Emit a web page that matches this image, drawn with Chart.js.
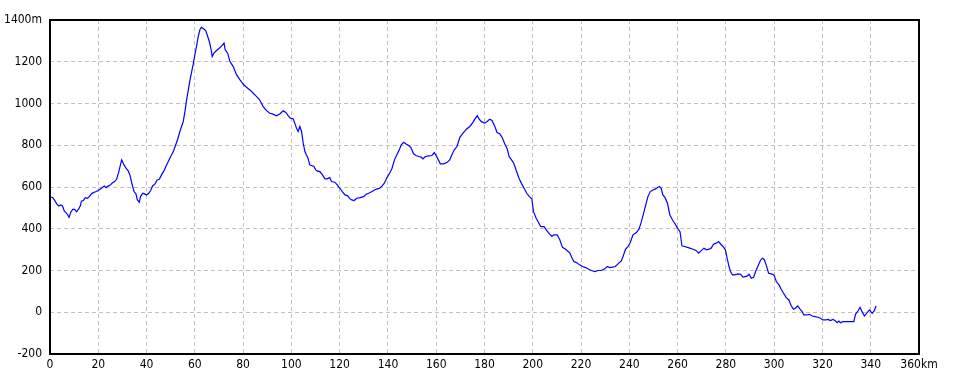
<!DOCTYPE html>
<html>
<head>
<meta charset="utf-8">
<script src="https://cdn.jsdelivr.net/npm/chart.js@4/dist/chart.umd.min.js"></script>
<style>
html,body{margin:0;padding:0;background:#fff;}
#wrap{width:960px;height:384px;position:relative;}
</style>
</head>
<body>
<div id="wrap"><canvas id="c"></canvas></div>
<script>
// distance along route (km)
const kmA = [0,1,1.8,2.8,3.6,4.4,5.2,5.9,6.9,7.9,
  8.6,9.4,10.2,11,11.9,12.6,13,13.8,14.6,15.5,
  16.3,17.1,17.9,18.9,20,21,21.8,22.5,23.2,23.7,
  24.8,25.9,26.8,27.6,28.4,29,29.7,30.6,31.5,32.4,
  33.1,33.9,34.8,35.6,36.2,37,37.5,38.4,39.2,40,
  40.9,41.7,42.5,43.5,44.4,45.3,46.2,47.2,48,49,
  50,51.1,52,52.9,53.8,54.5,55.2,55.9,56.6,57.3,
  58,58.7,59.4,60,60.7,61.4,62.1,62.7,63.5,64.5,
  65.1,66,66.7,67.2,67.9,69,70.1,71.1,72.1,72.6,
  73.6];
const elevA = [551,551,538,519,509,514,509,485,474,455,
  479,493,493,481,495,511,532,535,549,546,
  554,567,573,577,583,592,599,605,597,602,
  608,620,626,637,669,698,730,707,690,677,
  658,618,578,567,538,527,554,570,567,562,
  570,583,605,615,634,637,658,677,698,722,
  746,770,800,829,866,890,913,961,1017,1065,
  1113,1153,1193,1233,1273,1321,1353,1365,1359,1349,
  1329,1297,1260,1225,1241,1254,1265,1276,1289,1257,
  1241];

const kmB = [74.5,75.9,77.3,78.7,80.05,81.4,82.8,84.2,85.6,86.7,
  87.6,88.3,89.7,91.1,92.4,93.8,95.2,96.6,97.7,98.7,
  99.6,100.8,101.4,102.1,102.8,103.5,104.2,104.9,105.6,106.2,
  106.9,107.6,108.3,109.3,110.1,110.7,111.8,112.9,113.9,114.8,
  115.9,116.6,118,119,120.1,121.1,122.2,123.2,124.3,125,
  126,127.1,128.5,129.9,131,132,133.4,134.4,135.5,136.6,
  137.6,138.5,139.6,140.7,141.7,142.7,143.7,144.7,145.5,146.5,
  147.5,148.6,149.5,150.6,151.6,152.7,153.7,154.5,155.5,156.9,
  158.2,159.2,160.3,161.7,163.1,164.4,165.6,166.5,167.5,168.6];
const elevB = [1202,1177,1137,1113,1092,1078,1065,1049,1033,1020,
  1001,985,966,953,949,941,950,965,957,941,
  930,926,906,882,866,890,866,810,770,754,
  738,706,703,698,682,677,674,658,639,639,
  645,626,623,610,594,578,562,559,543,538,
  535,546,549,554,565,570,578,586,591,594,
  605,618,645,666,690,730,754,778,802,814,
  806,799,789,759,751,746,743,735,746,749,
  751,765,743,711,711,717,730,754,778,794];

const kmC = [169.8,171.1,172.5,173.9,175,176,177,177.8,178.7,180.1,
  181.1,182.2,183.1,184.3,185.2,186.3,187.3,188.4,189.4,190.2,
  191.2,192.1,193.3,194.3,195.4,196.4,197.5,198.6,199.6,200.3,
  201.4,202.4,203.3,204.7,205.8,206.9,207.9,208.7,210.1,211.2,
  212.3,213.6,215.4,216.3,217,218.1,219.4,220.6,221.9,223.2,
  224.3,225.7,227.1,228.4,229.8,230.9,231.9,233,234.2,235.3,
  236.7,237.4,238.4,239.5,240.4,241.5,242.9,244,245,245.9,
  246.8,247.7,248.7,249.8,250.9,251.8,252.5,253.2,253.9,254.8,
  255.8,256.8,257.9,259,260,261,261.8,262.8,264.1];
const elevC = [838,858,877,890,906,925,942,925,913,906,
  914,925,919,890,861,855,838,806,783,746,
  730,714,674,642,615,594,570,554,543,482,
  450,430,410,410,391,375,363,371,371,347,
  311,302,283,259,243,238,227,219,214,206,
  200,195,200,200,208,219,214,216,219,232,
  246,267,302,315,334,371,382,398,434,474,
  514,554,578,586,591,599,602,594,562,549,
  522,466,442,423,402,386,318,315,311];

const kmD = [265,266.4,267.8,268.7,269.8,270.9,271.9,273,273.9,274.9,
  276,277,277.8,278.8,279.8,280.5,281.3,281.9,282.7,283.6,
  285,286.1,287.1,288,288.9,289.6,290.5,291.5,292.3,293.3,
  294.3,295.1,295.8,296.7,297.7,298.8,299.9,300.9,302,302.9,
  303.9,305,306.1,307,308,308.8,309.8,310.8,311.6,312.3,
  313.3,314.6,315.8,316.9,318.1,319.2,320.2,321.2,322.3,323.3,
  324.4,325.4,326.1,326.8,327.5,328.5,329.8,331.2,333,333.7,
  334.7,335.6,336.4,337.4,338.5,339.5,340.6,341.5,342.2];
const elevD = [307,302,295,283,295,307,299,302,307,326,
  331,339,327,315,299,259,219,195,179,179,
  184,182,168,171,174,182,163,168,195,222,
  248,259,254,227,187,184,179,147,131,110,
  91,70,59,32,14,19,30,14,3,-13,
  -13,-10,-18,-21,-24,-29,-37,-37,-34,-40,
  -34,-42,-50,-42,-50,-45,-45,-45,-45,-10,
  6,24,3,-18,-2,11,-5,8,30];

// axis ticks
const xTicks = [0,20,40,60,80,100,120,140,160,180,200,220,240,260,280,300,320,340,360];
const yTicks = [-200,0,200,400,600,800,1000,1200,1400];
const xUnit = 'km';
const yUnit = 'm';

const km = [].concat(kmA, kmB, kmC, kmD);
const elev = [].concat(elevA, elevB, elevC, elevD);
const points = km.map((k, i) => ({x: k, y: elev[i]}));

const FONT = "'Liberation Sans Narrow','DejaVu Sans Condensed','Liberation Sans',sans-serif";

const frame = {
  id: 'frame',
  afterDatasetsDraw(chart) {
    const {ctx, chartArea: a} = chart;
    ctx.save();
    ctx.strokeStyle = '#000';
    ctx.lineWidth = 2;
    ctx.strokeRect(Math.round(a.left), Math.round(a.top), Math.round(a.right) - Math.round(a.left), Math.round(a.bottom) - Math.round(a.top));
    ctx.restore();
  }
};

new Chart(document.getElementById('c'), {
  type: 'line',
  data: {
    datasets: [{
      data: points,
      borderColor: '#0000ff',
      borderWidth: 1.2,
      pointRadius: 0,
      tension: 0,
      fill: false
    }]
  },
  options: {
    responsive: true,
    maintainAspectRatio: false,
    devicePixelRatio: 1,
    animation: false,
    layout: {padding: {top: 20, right: 41, left: 0, bottom: 0}},
    plugins: {legend: {display: false}, tooltip: {enabled: false}},
    scales: {
      x: {
        type: 'linear',
        min: xTicks[0],
        max: xTicks[xTicks.length - 1],
        afterBuildTicks: s => { s.ticks = xTicks.map(v => ({value: v})); },
        afterFit: s => { s.height = 30; },
        grid: {color: '#c0c0c0', lineWidth: 1, drawTicks: false},
        border: {display: false, dash: [4, 3]},
        ticks: {
          padding: 4,
          color: '#000',
          maxRotation: 0,
          autoSkip: false,
          font: {family: FONT, size: 12},
          callback: v => v === xTicks[xTicks.length - 1] ? v + xUnit : String(v)
        }
      },
      y: {
        type: 'linear',
        min: yTicks[0],
        max: yTicks[yTicks.length - 1],
        afterBuildTicks: s => { s.ticks = yTicks.map(v => ({value: v})); },
        afterFit: s => { s.width = 50; },
        grid: {color: '#c0c0c0', lineWidth: 1, drawTicks: false},
        border: {display: false, dash: [4, 3]},
        ticks: {
          padding: 8,
          color: '#000',
          autoSkip: false,
          font: {family: FONT, size: 12},
          callback: v => v === yTicks[yTicks.length - 1] ? v + yUnit : String(v)
        }
      }
    }
  },
  plugins: [frame]
});
</script>
</body>
</html>
